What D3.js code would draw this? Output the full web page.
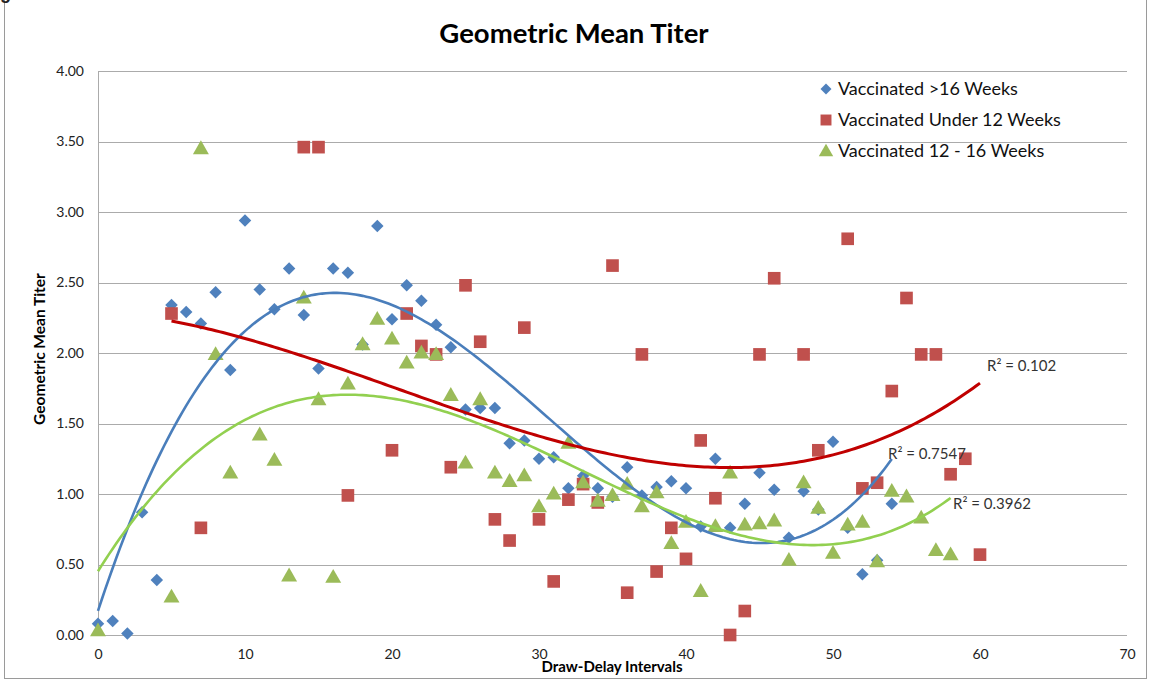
<!DOCTYPE html>
<html>
<head>
<meta charset="utf-8">
<script src="https://cdn.jsdelivr.net/npm/d3@7"></script>
<style>
  html, body { margin: 0; padding: 0; background: #fff; }
  svg { display: block; }
</style>
</head>
<body>
<svg id="chart" width="1151" height="680"></svg>
<script>
// ---- Data ----
const seriesNames = ["Vaccinated >16 Weeks", "Vaccinated Under 12 Weeks", "Vaccinated 12 - 16 Weeks"];

const over16X = [0,1,2,3,4,5,6,7,8,9,10,11,12,13,14,15,16,17,18,19,20,21,22,23,24,25,26,27,28,29,30,31,32,33,34,35,36,37,38,39,40,41,42,43,44,45,46,47,48,49,50,51,52,53,54];
const over16Y = [0.08,0.10,0.01,0.87,0.39,2.34,2.29,2.21,2.43,1.88,2.94,2.45,2.31,2.60,2.27,1.89,2.60,2.57,2.06,2.90,2.24,2.48,2.37,2.20,2.04,1.60,1.61,1.61,1.36,1.38,1.25,1.26,1.04,1.13,1.04,0.98,1.19,0.99,1.05,1.09,1.04,0.77,1.25,0.76,0.93,1.15,1.03,0.69,1.02,0.89,1.37,0.76,0.43,0.53,0.93];

const under12X = [5,7,14,15,17,20,21,22,23,24,25,26,27,28,29,30,31,32,33,34,35,36,37,38,39,40,41,42,43,44,45,46,48,49,51,52,53,54,55,56,57,58,59,60];
const under12Y = [2.28,0.76,3.46,3.46,0.99,1.31,2.28,2.05,1.99,1.19,2.48,2.08,0.82,0.67,2.18,0.82,0.38,0.96,1.07,0.94,2.62,0.30,1.99,0.45,0.76,0.54,1.38,0.97,0.00,0.17,1.99,2.53,1.99,1.31,2.81,1.04,1.08,1.73,2.39,1.99,1.99,1.14,1.25,0.57];

const mid12X = [0,5,7,8,9,11,12,13,14,15,16,17,18,19,20,21,22,23,24,25,26,27,28,29,30,31,32,33,34,35,36,37,38,39,40,41,42,43,44,45,46,47,48,49,50,51,52,53,54,55,56,57,58];
const mid12Y = [0.03,0.27,3.45,1.99,1.15,1.42,1.24,0.42,2.39,1.67,0.41,1.78,2.06,2.24,2.10,1.93,2.00,1.99,1.70,1.22,1.67,1.15,1.09,1.13,0.91,1.00,1.36,1.08,0.95,0.99,1.07,0.91,1.01,0.65,0.80,0.31,0.77,1.15,0.78,0.79,0.81,0.53,1.08,0.90,0.58,0.78,0.80,0.52,1.02,0.98,0.83,0.60,0.57];

const r2Labels = ["R\u00B2 = 0.7547", "R\u00B2 = 0.102", "R\u00B2 = 0.3962"];

const yTicks = [0,0.5,1,1.5,2,2.5,3,3.5,4];
const xTicks = [0,10,20,30,40,50,60,70];

// ---- Layout ----
const svg = d3.select("#chart");
const plot = { left: 98, right: 1127, top: 71, bottom: 635 };

const x = d3.scaleLinear().domain([0, 70]).range([plot.left, plot.right]);
const y = d3.scaleLinear().domain([0, 4]).range([plot.bottom, plot.top]);

const FONT = "Lato, 'Open Sans', sans-serif";
const markerColors = ["#4F81BD", "#C0504D", "#9BBB59"];
const trendColors = ["#4A7EBB", "#C00000", "#92D050"];
const trendWidths = [2.6, 3, 2.6];
const shapes = [d3.symbolSquare, d3.symbolSquare, d3.symbolTriangle];
const rotations = [45, 0, 0];
const sizes = [78, 160, 110];

const series = [
  { xs: over16X, ys: over16Y },
  { xs: under12X, ys: under12Y },
  { xs: mid12X, ys: mid12Y }
];

// outer chart border
svg.append("rect").attr("x", 4.5).attr("y", -5).attr("width", 1142).attr("height", 683.5)
  .attr("fill", "none").attr("stroke", "#9a9a9a").attr("stroke-width", 1);

// clipped heading glyph at top-left (as in the reference)
svg.append("text").attr("x", 0).attr("y", -1)
  .attr("font-family", "Liberation Sans, Arial, sans-serif").attr("font-weight", "bold")
  .attr("font-size", 18).attr("fill", "#222").text("g");

// gridlines
svg.append("g").selectAll("line").data(yTicks).join("line")
  .attr("x1", plot.left).attr("x2", plot.right)
  .attr("y1", d => Math.round(y(d)) + 0.5).attr("y2", d => Math.round(y(d)) + 0.5)
  .attr("stroke", "#ababab").attr("stroke-width", 1);

// y axis line
svg.append("line").attr("x1", plot.left + 0.5).attr("x2", plot.left + 0.5)
  .attr("y1", plot.top).attr("y2", plot.bottom)
  .attr("stroke", "#ababab");

// y axis
const yAxis = d3.axisLeft(y).tickValues(yTicks).tickFormat(d3.format(".2f")).tickSize(0).tickPadding(14);
const gy = svg.append("g").attr("transform", `translate(${plot.left},0)`).call(yAxis);
gy.select(".domain").remove();
gy.selectAll("text").attr("font-family", FONT).attr("font-size", 14).attr("fill", "#222");

// x axis
const xAxis = d3.axisBottom(x).tickValues(xTicks).tickFormat(d3.format("d")).tickSize(0).tickPadding(14);
const gx = svg.append("g").attr("transform", `translate(0,${plot.bottom})`).call(xAxis);
gx.select(".domain").remove();
gx.selectAll("text").attr("font-family", FONT).attr("font-size", 14).attr("fill", "#222");

// title
svg.append("text").attr("x", 574).attr("y", 43).attr("text-anchor", "middle")
  .attr("font-family", FONT).attr("font-weight", "bold")
  .attr("font-size", 27.5).attr("fill", "#000").text("Geometric Mean Titer");

// axis titles
svg.append("text").attr("transform", "translate(45,349) rotate(-90)").attr("text-anchor", "middle")
  .attr("font-family", FONT).attr("font-weight", "bold")
  .attr("font-size", 15.5).attr("fill", "#000").text("Geometric Mean Titer");
svg.append("text").attr("x", 612).attr("y", 672).attr("text-anchor", "middle")
  .attr("font-family", FONT).attr("font-weight", "bold")
  .attr("font-size", 15).attr("fill", "#000").text("Draw-Delay Intervals");

// markers
series.forEach((s, i) => {
  const pts = s.xs.map((v, k) => [v, s.ys[k]]);
  svg.append("g").selectAll("path").data(pts).join("path")
    .attr("d", d3.symbol().type(shapes[i]).size(sizes[i]))
    .attr("transform", d => `translate(${x(d[0])},${y(d[1]) + (i === 2 ? 1 : 0)}) rotate(${rotations[i]})`)
    .attr("fill", markerColors[i]);
});

// cubic least-squares trendlines (computed from the data)
function polyFit(xs, ys, order) {
  const n = order + 1;
  const A = Array.from({ length: n }, () => new Array(n + 1).fill(0));
  for (let k = 0; k < xs.length; k++) {
    for (let r = 0; r < n; r++) {
      for (let c = 0; c < n; c++) A[r][c] += Math.pow(xs[k], r + c);
      A[r][n] += ys[k] * Math.pow(xs[k], r);
    }
  }
  for (let p = 0; p < n; p++) {
    let mx = p;
    for (let r = p + 1; r < n; r++) if (Math.abs(A[r][p]) > Math.abs(A[mx][p])) mx = r;
    [A[p], A[mx]] = [A[mx], A[p]];
    for (let r = 0; r < n; r++) {
      if (r === p) continue;
      const f = A[r][p] / A[p][p];
      for (let c = p; c <= n; c++) A[r][c] -= f * A[p][c];
    }
  }
  return A.map((row, r) => row[n] / row[r]);
}
const evalPoly = (co, t) => co.reduce((acc, c, i) => acc + c * Math.pow(t, i), 0);

const line = d3.line().x(d => x(d[0])).y(d => y(d[1]));
const fits = series.map(s => polyFit(s.xs, s.ys, 3));
series.forEach((s, i) => {
  const lo = d3.min(s.xs), hi = d3.max(s.xs);
  const pts = d3.range(lo, hi + 0.001, 0.25).map(t => [t, evalPoly(fits[i], t)]);
  svg.append("path").datum(pts).attr("d", line)
    .attr("fill", "none").attr("stroke", trendColors[i]).attr("stroke-width", trendWidths[i]);
});

// R² labels
const r2Pos = [[888, 459], [987, 371], [953, 509]];
r2Labels.forEach((t, i) => {
  svg.append("text").attr("x", r2Pos[i][0]).attr("y", r2Pos[i][1])
    .attr("font-family", FONT).attr("font-size", 15).attr("fill", "#333").text(t);
});

// legend
const leg = svg.append("g");
seriesNames.forEach((name, i) => {
  const ly = [89, 120, 151][i];
  leg.append("path").attr("d", d3.symbol().type(shapes[i]).size([60, 120, 90][i]))
    .attr("transform", `translate(826,${ly + (i === 2 ? 1 : 0)}) rotate(${rotations[i]})`).attr("fill", markerColors[i]);
  leg.append("text").attr("x", 838).attr("y", ly + 6)
    .attr("font-family", FONT).attr("font-size", 18).attr("fill", "#111").text(name);
});
</script>
</body>
</html>
